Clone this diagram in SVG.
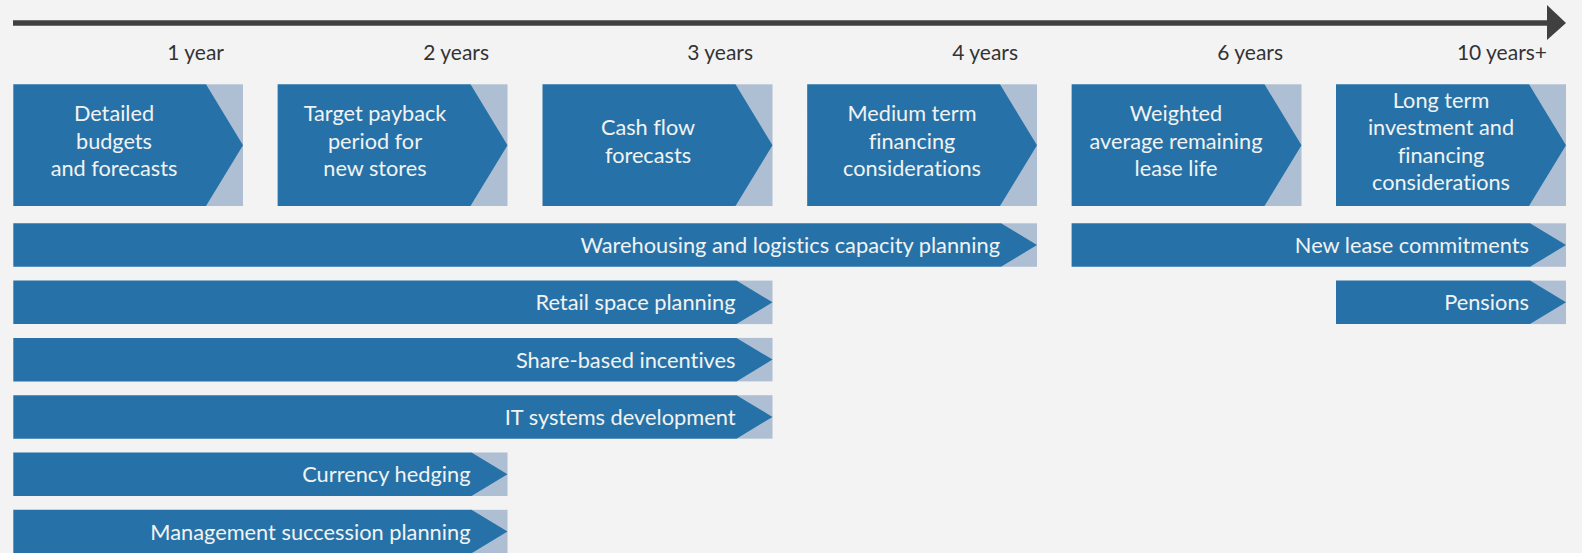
<svg xmlns="http://www.w3.org/2000/svg" width="1582" height="553" viewBox="0 0 1582 553">
<style>
.bg{fill:#f3f3f3}
.dk{fill:#2672a8}
.lt{fill:#aebfd3}
text{font-variant-ligatures:none}
.yr{font-family:Lato,"Liberation Sans",sans-serif;font-size:21px;fill:#333;text-anchor:end}
.bt{font-family:Lato,"Liberation Sans",sans-serif;font-size:21.7px;fill:#f2f2f2;text-anchor:middle}
.rt{font-family:Lato,"Liberation Sans",sans-serif;font-size:21.8px;fill:#f2f2f2;text-anchor:end}
.axis{stroke:#404040;stroke-width:5.5;fill:none}
</style>
<rect class="bg" width="1582" height="553"/>
<g id="connectors">
<line class="axis" x1="13" y1="23" x2="1550" y2="23"/>
<polygon points="1547,5 1566,23 1547,40" fill="#404040"/>
</g>
<g id="year-labels">
<text class="yr" x="224" y="60">1 year</text>
<text class="yr" x="489" y="60">2 years</text>
<text class="yr" x="753" y="60">3 years</text>
<text class="yr" x="1018" y="60">4 years</text>
<text class="yr" x="1283" y="60">6 years</text>
<text class="yr" x="1547" y="60">10 years+</text>
</g>
<g id="box1">
<rect class="lt" x="206" y="84.3" width="37" height="121.7"/>
<polygon class="dk" points="13.3,84.3 206,84.3 243,145.2 206,206 13.3,206"/>
<text class="bt" x="114" y="121">Detailed</text>
<text class="bt" x="114" y="148.5">budgets</text>
<text class="bt" x="114" y="176">and forecasts</text>
</g>
<g id="box2">
<rect class="lt" x="470.5" y="84.3" width="37" height="121.7"/>
<polygon class="dk" points="277.6,84.3 470.5,84.3 507.5,145.2 470.5,206 277.6,206"/>
<text class="bt" x="375" y="121">Target payback</text>
<text class="bt" x="375" y="148.5">period for</text>
<text class="bt" x="375" y="176">new stores</text>
</g>
<g id="box3">
<rect class="lt" x="735.5" y="84.3" width="37" height="121.7"/>
<polygon class="dk" points="542.5,84.3 735.5,84.3 772.5,145.2 735.5,206 542.5,206"/>
<text class="bt" x="648" y="135">Cash flow</text>
<text class="bt" x="648" y="162.5">forecasts</text>
</g>
<g id="box4">
<rect class="lt" x="1000" y="84.3" width="37" height="121.7"/>
<polygon class="dk" points="807.2,84.3 1000,84.3 1037,145.2 1000,206 807.2,206"/>
<text class="bt" x="912" y="121">Medium term</text>
<text class="bt" x="912" y="148.5">financing</text>
<text class="bt" x="912" y="176">considerations</text>
</g>
<g id="box5">
<rect class="lt" x="1264.5" y="84.3" width="37" height="121.7"/>
<polygon class="dk" points="1071.6,84.3 1264.5,84.3 1301.5,145.2 1264.5,206 1071.6,206"/>
<text class="bt" x="1176" y="121">Weighted</text>
<text class="bt" x="1176" y="148.5">average remaining</text>
<text class="bt" x="1176" y="176">lease life</text>
</g>
<g id="box6">
<rect class="lt" x="1529" y="84.3" width="37" height="121.7"/>
<polygon class="dk" points="1336,84.3 1529,84.3 1566,145.2 1529,206 1336,206"/>
<text class="bt" x="1441" y="107.5">Long term</text>
<text class="bt" x="1441" y="135">investment and</text>
<text class="bt" x="1441" y="162.5">financing</text>
<text class="bt" x="1441" y="190">considerations</text>
</g>
<g id="bar-warehousing">
<rect class="lt" x="1001" y="223.3" width="36" height="43.5"/>
<polygon class="dk" points="13.3,223.3 1001,223.3 1037,245 1001,266.8 13.3,266.8"/>
<text class="rt" x="1000" y="253">Warehousing and logistics capacity planning</text>
</g>
<g id="bar-newlease">
<rect class="lt" x="1530" y="223.3" width="36" height="43.5"/>
<polygon class="dk" points="1071.6,223.3 1530,223.3 1566,245 1530,266.8 1071.6,266.8"/>
<text class="rt" x="1529" y="253">New lease commitments</text>
</g>
<g id="bar-retail">
<rect class="lt" x="736.5" y="280.6" width="36" height="43.5"/>
<polygon class="dk" points="13.3,280.6 736.5,280.6 772.5,302.3 736.5,324.1 13.3,324.1"/>
<text class="rt" x="735.5" y="310.3">Retail space planning</text>
</g>
<g id="bar-pensions">
<rect class="lt" x="1530" y="280.6" width="36" height="43.5"/>
<polygon class="dk" points="1336,280.6 1530,280.6 1566,302.3 1530,324.1 1336,324.1"/>
<text class="rt" x="1529" y="310.3">Pensions</text>
</g>
<g id="bar-share">
<rect class="lt" x="736.5" y="337.9" width="36" height="43.5"/>
<polygon class="dk" points="13.3,337.9 736.5,337.9 772.5,359.6 736.5,381.4 13.3,381.4"/>
<text class="rt" x="735.5" y="367.6">Share-based incentives</text>
</g>
<g id="bar-it">
<rect class="lt" x="736.5" y="395.2" width="36" height="43.5"/>
<polygon class="dk" points="13.3,395.2 736.5,395.2 772.5,416.9 736.5,438.7 13.3,438.7"/>
<text class="rt" x="735.5" y="424.9">IT systems development</text>
</g>
<g id="bar-currency">
<rect class="lt" x="471.5" y="452.5" width="36" height="43.5"/>
<polygon class="dk" points="13.3,452.5 471.5,452.5 507.5,474.2 471.5,496 13.3,496"/>
<text class="rt" x="470.5" y="482.2">Currency hedging</text>
</g>
<g id="bar-management">
<rect class="lt" x="471.5" y="509.8" width="36" height="43.5"/>
<polygon class="dk" points="13.3,509.8 471.5,509.8 507.5,531.5 471.5,553.3 13.3,553.3"/>
<text class="rt" x="470.5" y="539.5">Management succession planning</text>
</g>
</svg>
